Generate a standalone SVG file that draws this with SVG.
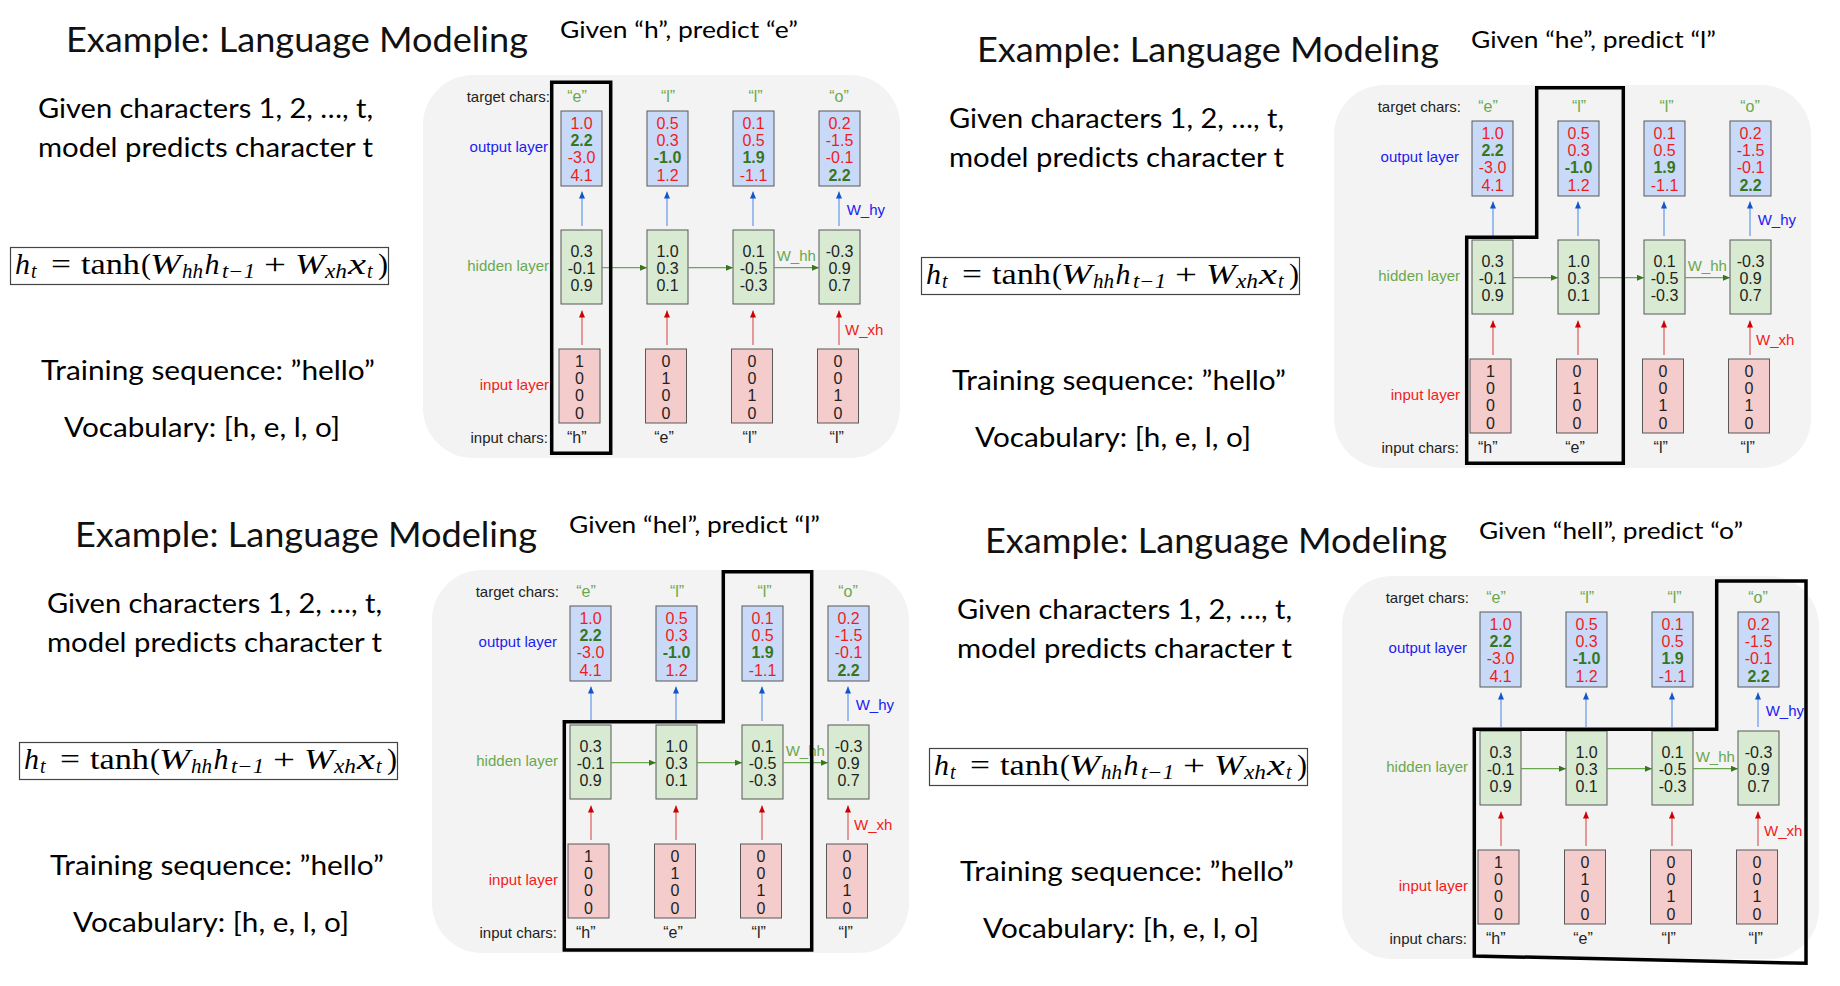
<svg xmlns="http://www.w3.org/2000/svg" width="1840" height="986" viewBox="0 0 1840 986">
<style>
.title{font-family:Lato,"Open Sans",sans-serif;font-size:35px;fill:#111}
.sub{font-family:Lato,"Open Sans",sans-serif;font-size:24px;fill:#000}
.body{font-family:Lato,"Open Sans",sans-serif;font-size:26px;fill:#000}
.eq{font-family:"Liberation Serif","DejaVu Serif",serif;font-size:30px;fill:#000}
.it{font-style:italic}
.sb{font-size:20px}
.eqbox{fill:#fff;stroke:#444;stroke-width:1.2}
.lbl{font-family:"Liberation Sans",Arial,sans-serif;font-size:15px;text-anchor:end}
.num{font-family:"Liberation Sans",Arial,sans-serif;font-size:16px;text-anchor:middle}
.wl{font-family:"Liberation Sans",Arial,sans-serif;font-size:15px}
.k{fill:#222}.r{fill:#f01c1c}.g{fill:#38761d;font-weight:bold}.lg{fill:#6aa84f}.bl{fill:#1c1cf0}.rd{fill:#f01c1c}
.bg{fill:#f3f3f3}
.ob{fill:#c9daf8;stroke:#595959;stroke-width:1}
.hb{fill:#d9ead3;stroke:#595959;stroke-width:1}
.ib{fill:#f4cccc;stroke:#595959;stroke-width:1}
.ab{stroke:#6d9eeb;stroke-width:1.3;fill:none;marker-end:url(#mb)}
.ar{stroke:#e06666;stroke-width:1.3;fill:none;marker-end:url(#mr)}
.ag{stroke:#6aa84f;stroke-width:1.3;fill:none;marker-end:url(#mg)}
.hl{fill:none;stroke:#000;stroke-width:3.5;stroke-linejoin:miter}
</style>
<defs>
<marker id="mb" viewBox="0 0 7 6" refX="7" refY="3" markerWidth="7" markerHeight="6" markerUnits="userSpaceOnUse" orient="auto"><path d="M0,0L7,3L0,6z" fill="#1155cc"/></marker>
<marker id="mr" viewBox="0 0 7 6" refX="7" refY="3" markerWidth="7" markerHeight="6" markerUnits="userSpaceOnUse" orient="auto"><path d="M0,0L7,3L0,6z" fill="#cc0000"/></marker>
<marker id="mg" viewBox="0 0 7 6" refX="7" refY="3" markerWidth="7" markerHeight="6" markerUnits="userSpaceOnUse" orient="auto"><path d="M0,0L7,3L0,6z" fill="#38761d"/></marker>
</defs>
<rect x="0" y="0" width="1840" height="986" fill="#fff"/>

<!-- ============ SLIDE 1 ============ -->
<g id="s1" transform="translate(0,0)">
<g id="s1-title"><text class="title" x="66" y="52" textLength="462" lengthAdjust="spacingAndGlyphs">Example: Language Modeling</text></g>
<g id="s1-given"><text class="sub" x="560" y="37.7" textLength="238" lengthAdjust="spacingAndGlyphs">Given “h”, predict “e”</text></g>
<g id="s1-task"><text class="body" x="38" y="118" textLength="335" lengthAdjust="spacingAndGlyphs">Given characters 1, 2, …, t,</text><text class="body" x="38" y="157" textLength="335" lengthAdjust="spacingAndGlyphs">model predicts character t</text></g>
<g id="s1-equation"><rect class="eqbox" x="10.5" y="247.5" width="378" height="37"/>
<text class="eq"><tspan class="it" x="15" y="274">h</tspan><tspan class="it sb" x="31" y="278">t</tspan><tspan x="51" y="274" textLength="20" lengthAdjust="spacingAndGlyphs">=</tspan><tspan x="81" y="274" textLength="59" lengthAdjust="spacingAndGlyphs">tanh</tspan><tspan x="141" y="274">(</tspan><tspan class="it" x="150" y="274" textLength="31" lengthAdjust="spacingAndGlyphs">W</tspan><tspan class="it sb" x="182" y="277.5" textLength="21" lengthAdjust="spacingAndGlyphs">hh</tspan><tspan class="it" x="204.5" y="274">h</tspan><tspan class="it sb" x="222" y="278" textLength="33" lengthAdjust="spacingAndGlyphs">t−1</tspan><tspan x="264" y="274" textLength="22" lengthAdjust="spacingAndGlyphs">+</tspan><tspan class="it" x="295" y="274" textLength="30" lengthAdjust="spacingAndGlyphs">W</tspan><tspan class="it sb" x="325" y="278" textLength="22" lengthAdjust="spacingAndGlyphs">xh</tspan><tspan class="it" x="348" y="274" textLength="18" lengthAdjust="spacingAndGlyphs">x</tspan><tspan class="it sb" x="367" y="278">t</tspan><tspan x="378" y="274">)</tspan></text></g>
<g id="s1-training"><text class="body" x="41" y="380" textLength="334" lengthAdjust="spacingAndGlyphs">Training sequence: ”hello”</text></g>
<g id="s1-vocab"><text class="body" x="64" y="437" textLength="276" lengthAdjust="spacingAndGlyphs">Vocabulary: [h, e, l, o]</text></g>
<g id="s1-rnn">
<rect class="bg" x="423" y="75" width="477" height="383" rx="50"/>
<g id="s1-labels"><text class="lbl k" x="550" y="101.7">target chars:</text><text class="lbl bl" x="548" y="151.7">output layer</text><text class="lbl lg" x="549" y="270.7">hidden layer</text><text class="lbl rd" x="549" y="390">input layer</text><text class="lbl k" x="548" y="442.7">input chars:</text></g>
<g id="s1-targets"><text class="num lg"><tspan x="577" y="101.7">“e”</tspan><tspan x="668" y="101.7">“l”</tspan><tspan x="755.5" y="101.7">“l”</tspan><tspan x="839" y="101.7">“o”</tspan></text></g>
<g id="s1-y1"><rect class="ob" x="561" y="111" width="41" height="75"/><text class="num"><tspan class="r" x="581.5" y="128.7">1.0</tspan><tspan class="g" x="581.5" y="146">2.2</tspan><tspan class="r" x="581.5" y="163.3">-3.0</tspan><tspan class="r" x="581.5" y="180.7">4.1</tspan></text></g>
<g id="s1-y2"><rect class="ob" x="647" y="111" width="41" height="75"/><text class="num"><tspan class="r" x="667.5" y="128.7">0.5</tspan><tspan class="r" x="667.5" y="146">0.3</tspan><tspan class="g" x="667.5" y="163.3">-1.0</tspan><tspan class="r" x="667.5" y="180.7">1.2</tspan></text></g>
<g id="s1-y3"><rect class="ob" x="733" y="111" width="41" height="75"/><text class="num"><tspan class="r" x="753.5" y="128.7">0.1</tspan><tspan class="r" x="753.5" y="146">0.5</tspan><tspan class="g" x="753.5" y="163.3">1.9</tspan><tspan class="r" x="753.5" y="180.7">-1.1</tspan></text></g>
<g id="s1-y4"><rect class="ob" x="819" y="111" width="41" height="75"/><text class="num"><tspan class="r" x="839.5" y="128.7">0.2</tspan><tspan class="r" x="839.5" y="146">-1.5</tspan><tspan class="r" x="839.5" y="163.3">-0.1</tspan><tspan class="g" x="839.5" y="180.7">2.2</tspan></text></g>
<g id="s1-h1"><rect class="hb" x="561" y="230" width="41" height="74"/><text class="num k"><tspan x="581.5" y="256.7">0.3</tspan><tspan x="581.5" y="274">-0.1</tspan><tspan x="581.5" y="291.3">0.9</tspan></text></g>
<g id="s1-h2"><rect class="hb" x="647" y="230" width="41" height="74"/><text class="num k"><tspan x="667.5" y="256.7">1.0</tspan><tspan x="667.5" y="274">0.3</tspan><tspan x="667.5" y="291.3">0.1</tspan></text></g>
<g id="s1-h3"><rect class="hb" x="733" y="230" width="41" height="74"/><text class="num k"><tspan x="753.5" y="256.7">0.1</tspan><tspan x="753.5" y="274">-0.5</tspan><tspan x="753.5" y="291.3">-0.3</tspan></text></g>
<g id="s1-h4"><rect class="hb" x="819" y="230" width="41" height="74"/><text class="num k"><tspan x="839.5" y="256.7">-0.3</tspan><tspan x="839.5" y="274">0.9</tspan><tspan x="839.5" y="291.3">0.7</tspan></text></g>
<g id="s1-x1"><rect class="ib" x="559" y="349" width="41" height="74"/><text class="num k"><tspan x="579.5" y="366.7">1</tspan><tspan x="579.5" y="384">0</tspan><tspan x="579.5" y="401.3">0</tspan><tspan x="579.5" y="418.7">0</tspan></text></g>
<g id="s1-x2"><rect class="ib" x="645.5" y="349" width="41" height="74"/><text class="num k"><tspan x="666" y="366.7">0</tspan><tspan x="666" y="384">1</tspan><tspan x="666" y="401.3">0</tspan><tspan x="666" y="418.7">0</tspan></text></g>
<g id="s1-x3"><rect class="ib" x="731.5" y="349" width="41" height="74"/><text class="num k"><tspan x="752" y="366.7">0</tspan><tspan x="752" y="384">0</tspan><tspan x="752" y="401.3">1</tspan><tspan x="752" y="418.7">0</tspan></text></g>
<g id="s1-x4"><rect class="ib" x="817.5" y="349" width="41" height="74"/><text class="num k"><tspan x="838" y="366.7">0</tspan><tspan x="838" y="384">0</tspan><tspan x="838" y="401.3">1</tspan><tspan x="838" y="418.7">0</tspan></text></g>
<g id="s1-connectors"><path class="ab" d="M582,226V191.5"/><path class="ab" d="M667,226V191.5"/><path class="ab" d="M753,226V191.5"/><path class="ab" d="M839,226V191.5"/><path class="ar" d="M582,345V310.5"/><path class="ar" d="M667,345V310.5"/><path class="ar" d="M753,345V310.5"/><path class="ar" d="M839,345V310.5"/><path class="ag" d="M602,267.7H647"/><path class="ag" d="M688,267.7H733"/><path class="ag" d="M774,267.7H819"/></g>
<g id="s1-weights"><text class="wl bl" x="846.7" y="215">W_hy</text><text class="wl lg" x="776.7" y="261">W_hh</text><text class="wl rd" x="845" y="335">W_xh</text></g>
<g id="s1-inchars"><text class="num k"><tspan x="576.7" y="442.7">“h”</tspan><tspan x="664" y="442.7">“e”</tspan><tspan x="749.7" y="442.7">“l”</tspan><tspan x="836.7" y="442.7">“l”</tspan></text></g>
<path id="s1-highlight" class="hl" d="M551.7,82.3H610.7V453.3H551.7Z"/>
</g>
</g>

<!-- ============ SLIDE 2 ============ -->
<g id="s2" transform="translate(911,10)">
<g id="s2-title"><text class="title" x="66" y="52" textLength="462" lengthAdjust="spacingAndGlyphs">Example: Language Modeling</text></g>
<g id="s2-given"><text class="sub" x="560" y="38" textLength="245" lengthAdjust="spacingAndGlyphs">Given “he”, predict “l”</text></g>
<g id="s2-task"><text class="body" x="38" y="118" textLength="335" lengthAdjust="spacingAndGlyphs">Given characters 1, 2, …, t,</text><text class="body" x="38" y="157" textLength="335" lengthAdjust="spacingAndGlyphs">model predicts character t</text></g>
<g id="s2-equation"><rect class="eqbox" x="10.5" y="247.5" width="378" height="37"/>
<text class="eq"><tspan class="it" x="15" y="274">h</tspan><tspan class="it sb" x="31" y="278">t</tspan><tspan x="51" y="274" textLength="20" lengthAdjust="spacingAndGlyphs">=</tspan><tspan x="81" y="274" textLength="59" lengthAdjust="spacingAndGlyphs">tanh</tspan><tspan x="141" y="274">(</tspan><tspan class="it" x="150" y="274" textLength="31" lengthAdjust="spacingAndGlyphs">W</tspan><tspan class="it sb" x="182" y="277.5" textLength="21" lengthAdjust="spacingAndGlyphs">hh</tspan><tspan class="it" x="204.5" y="274">h</tspan><tspan class="it sb" x="222" y="278" textLength="33" lengthAdjust="spacingAndGlyphs">t−1</tspan><tspan x="264" y="274" textLength="22" lengthAdjust="spacingAndGlyphs">+</tspan><tspan class="it" x="295" y="274" textLength="30" lengthAdjust="spacingAndGlyphs">W</tspan><tspan class="it sb" x="325" y="278" textLength="22" lengthAdjust="spacingAndGlyphs">xh</tspan><tspan class="it" x="348" y="274" textLength="18" lengthAdjust="spacingAndGlyphs">x</tspan><tspan class="it sb" x="367" y="278">t</tspan><tspan x="378" y="274">)</tspan></text></g>
<g id="s2-training"><text class="body" x="41" y="380" textLength="334" lengthAdjust="spacingAndGlyphs">Training sequence: ”hello”</text></g>
<g id="s2-vocab"><text class="body" x="64" y="437" textLength="276" lengthAdjust="spacingAndGlyphs">Vocabulary: [h, e, l, o]</text></g>
<g id="s2-rnn">
<rect class="bg" x="423" y="75" width="477" height="383" rx="50"/>
<g id="s2-labels"><text class="lbl k" x="550" y="101.7">target chars:</text><text class="lbl bl" x="548" y="151.7">output layer</text><text class="lbl lg" x="549" y="270.7">hidden layer</text><text class="lbl rd" x="549" y="390">input layer</text><text class="lbl k" x="548" y="442.7">input chars:</text></g>
<g id="s2-targets"><text class="num lg"><tspan x="577" y="101.7">“e”</tspan><tspan x="668" y="101.7">“l”</tspan><tspan x="755.5" y="101.7">“l”</tspan><tspan x="839" y="101.7">“o”</tspan></text></g>
<g id="s2-y1"><rect class="ob" x="561" y="111" width="41" height="75"/><text class="num"><tspan class="r" x="581.5" y="128.7">1.0</tspan><tspan class="g" x="581.5" y="146">2.2</tspan><tspan class="r" x="581.5" y="163.3">-3.0</tspan><tspan class="r" x="581.5" y="180.7">4.1</tspan></text></g>
<g id="s2-y2"><rect class="ob" x="647" y="111" width="41" height="75"/><text class="num"><tspan class="r" x="667.5" y="128.7">0.5</tspan><tspan class="r" x="667.5" y="146">0.3</tspan><tspan class="g" x="667.5" y="163.3">-1.0</tspan><tspan class="r" x="667.5" y="180.7">1.2</tspan></text></g>
<g id="s2-y3"><rect class="ob" x="733" y="111" width="41" height="75"/><text class="num"><tspan class="r" x="753.5" y="128.7">0.1</tspan><tspan class="r" x="753.5" y="146">0.5</tspan><tspan class="g" x="753.5" y="163.3">1.9</tspan><tspan class="r" x="753.5" y="180.7">-1.1</tspan></text></g>
<g id="s2-y4"><rect class="ob" x="819" y="111" width="41" height="75"/><text class="num"><tspan class="r" x="839.5" y="128.7">0.2</tspan><tspan class="r" x="839.5" y="146">-1.5</tspan><tspan class="r" x="839.5" y="163.3">-0.1</tspan><tspan class="g" x="839.5" y="180.7">2.2</tspan></text></g>
<g id="s2-h1"><rect class="hb" x="561" y="230" width="41" height="74"/><text class="num k"><tspan x="581.5" y="256.7">0.3</tspan><tspan x="581.5" y="274">-0.1</tspan><tspan x="581.5" y="291.3">0.9</tspan></text></g>
<g id="s2-h2"><rect class="hb" x="647" y="230" width="41" height="74"/><text class="num k"><tspan x="667.5" y="256.7">1.0</tspan><tspan x="667.5" y="274">0.3</tspan><tspan x="667.5" y="291.3">0.1</tspan></text></g>
<g id="s2-h3"><rect class="hb" x="733" y="230" width="41" height="74"/><text class="num k"><tspan x="753.5" y="256.7">0.1</tspan><tspan x="753.5" y="274">-0.5</tspan><tspan x="753.5" y="291.3">-0.3</tspan></text></g>
<g id="s2-h4"><rect class="hb" x="819" y="230" width="41" height="74"/><text class="num k"><tspan x="839.5" y="256.7">-0.3</tspan><tspan x="839.5" y="274">0.9</tspan><tspan x="839.5" y="291.3">0.7</tspan></text></g>
<g id="s2-x1"><rect class="ib" x="559" y="349" width="41" height="74"/><text class="num k"><tspan x="579.5" y="366.7">1</tspan><tspan x="579.5" y="384">0</tspan><tspan x="579.5" y="401.3">0</tspan><tspan x="579.5" y="418.7">0</tspan></text></g>
<g id="s2-x2"><rect class="ib" x="645.5" y="349" width="41" height="74"/><text class="num k"><tspan x="666" y="366.7">0</tspan><tspan x="666" y="384">1</tspan><tspan x="666" y="401.3">0</tspan><tspan x="666" y="418.7">0</tspan></text></g>
<g id="s2-x3"><rect class="ib" x="731.5" y="349" width="41" height="74"/><text class="num k"><tspan x="752" y="366.7">0</tspan><tspan x="752" y="384">0</tspan><tspan x="752" y="401.3">1</tspan><tspan x="752" y="418.7">0</tspan></text></g>
<g id="s2-x4"><rect class="ib" x="817.5" y="349" width="41" height="74"/><text class="num k"><tspan x="838" y="366.7">0</tspan><tspan x="838" y="384">0</tspan><tspan x="838" y="401.3">1</tspan><tspan x="838" y="418.7">0</tspan></text></g>
<g id="s2-connectors"><path class="ab" d="M582,226V191.5"/><path class="ab" d="M667,226V191.5"/><path class="ab" d="M753,226V191.5"/><path class="ab" d="M839,226V191.5"/><path class="ar" d="M582,345V310.5"/><path class="ar" d="M667,345V310.5"/><path class="ar" d="M753,345V310.5"/><path class="ar" d="M839,345V310.5"/><path class="ag" d="M602,267.7H647"/><path class="ag" d="M688,267.7H733"/><path class="ag" d="M774,267.7H819"/></g>
<g id="s2-weights"><text class="wl bl" x="846.7" y="215">W_hy</text><text class="wl lg" x="776.7" y="261">W_hh</text><text class="wl rd" x="845" y="335">W_xh</text></g>
<g id="s2-inchars"><text class="num k"><tspan x="576.7" y="442.7">“h”</tspan><tspan x="664" y="442.7">“e”</tspan><tspan x="749.7" y="442.7">“l”</tspan><tspan x="836.7" y="442.7">“l”</tspan></text></g>
<path id="s2-highlight" class="hl" d="M555.7,227.3H625.7V77.7H712.3V453.3H555.7Z"/>
</g>
</g>

<!-- ============ SLIDE 3 ============ -->
<g id="s3" transform="translate(9,495)">
<g id="s3-title"><text class="title" x="66" y="52" textLength="462" lengthAdjust="spacingAndGlyphs">Example: Language Modeling</text></g>
<g id="s3-given"><text class="sub" x="560" y="38" textLength="251" lengthAdjust="spacingAndGlyphs">Given “hel”, predict “l”</text></g>
<g id="s3-task"><text class="body" x="38" y="118" textLength="335" lengthAdjust="spacingAndGlyphs">Given characters 1, 2, …, t,</text><text class="body" x="38" y="157" textLength="335" lengthAdjust="spacingAndGlyphs">model predicts character t</text></g>
<g id="s3-equation"><rect class="eqbox" x="10.5" y="247.5" width="378" height="37"/>
<text class="eq"><tspan class="it" x="15" y="274">h</tspan><tspan class="it sb" x="31" y="278">t</tspan><tspan x="51" y="274" textLength="20" lengthAdjust="spacingAndGlyphs">=</tspan><tspan x="81" y="274" textLength="59" lengthAdjust="spacingAndGlyphs">tanh</tspan><tspan x="141" y="274">(</tspan><tspan class="it" x="150" y="274" textLength="31" lengthAdjust="spacingAndGlyphs">W</tspan><tspan class="it sb" x="182" y="277.5" textLength="21" lengthAdjust="spacingAndGlyphs">hh</tspan><tspan class="it" x="204.5" y="274">h</tspan><tspan class="it sb" x="222" y="278" textLength="33" lengthAdjust="spacingAndGlyphs">t−1</tspan><tspan x="264" y="274" textLength="22" lengthAdjust="spacingAndGlyphs">+</tspan><tspan class="it" x="295" y="274" textLength="30" lengthAdjust="spacingAndGlyphs">W</tspan><tspan class="it sb" x="325" y="278" textLength="22" lengthAdjust="spacingAndGlyphs">xh</tspan><tspan class="it" x="348" y="274" textLength="18" lengthAdjust="spacingAndGlyphs">x</tspan><tspan class="it sb" x="367" y="278">t</tspan><tspan x="378" y="274">)</tspan></text></g>
<g id="s3-training"><text class="body" x="41" y="380" textLength="334" lengthAdjust="spacingAndGlyphs">Training sequence: ”hello”</text></g>
<g id="s3-vocab"><text class="body" x="64" y="437" textLength="276" lengthAdjust="spacingAndGlyphs">Vocabulary: [h, e, l, o]</text></g>
<g id="s3-rnn">
<rect class="bg" x="423" y="75" width="477" height="383" rx="50"/>
<g id="s3-labels"><text class="lbl k" x="550" y="101.7">target chars:</text><text class="lbl bl" x="548" y="151.7">output layer</text><text class="lbl lg" x="549" y="270.7">hidden layer</text><text class="lbl rd" x="549" y="390">input layer</text><text class="lbl k" x="548" y="442.7">input chars:</text></g>
<g id="s3-targets"><text class="num lg"><tspan x="577" y="101.7">“e”</tspan><tspan x="668" y="101.7">“l”</tspan><tspan x="755.5" y="101.7">“l”</tspan><tspan x="839" y="101.7">“o”</tspan></text></g>
<g id="s3-y1"><rect class="ob" x="561" y="111" width="41" height="75"/><text class="num"><tspan class="r" x="581.5" y="128.7">1.0</tspan><tspan class="g" x="581.5" y="146">2.2</tspan><tspan class="r" x="581.5" y="163.3">-3.0</tspan><tspan class="r" x="581.5" y="180.7">4.1</tspan></text></g>
<g id="s3-y2"><rect class="ob" x="647" y="111" width="41" height="75"/><text class="num"><tspan class="r" x="667.5" y="128.7">0.5</tspan><tspan class="r" x="667.5" y="146">0.3</tspan><tspan class="g" x="667.5" y="163.3">-1.0</tspan><tspan class="r" x="667.5" y="180.7">1.2</tspan></text></g>
<g id="s3-y3"><rect class="ob" x="733" y="111" width="41" height="75"/><text class="num"><tspan class="r" x="753.5" y="128.7">0.1</tspan><tspan class="r" x="753.5" y="146">0.5</tspan><tspan class="g" x="753.5" y="163.3">1.9</tspan><tspan class="r" x="753.5" y="180.7">-1.1</tspan></text></g>
<g id="s3-y4"><rect class="ob" x="819" y="111" width="41" height="75"/><text class="num"><tspan class="r" x="839.5" y="128.7">0.2</tspan><tspan class="r" x="839.5" y="146">-1.5</tspan><tspan class="r" x="839.5" y="163.3">-0.1</tspan><tspan class="g" x="839.5" y="180.7">2.2</tspan></text></g>
<g id="s3-h1"><rect class="hb" x="561" y="230" width="41" height="74"/><text class="num k"><tspan x="581.5" y="256.7">0.3</tspan><tspan x="581.5" y="274">-0.1</tspan><tspan x="581.5" y="291.3">0.9</tspan></text></g>
<g id="s3-h2"><rect class="hb" x="647" y="230" width="41" height="74"/><text class="num k"><tspan x="667.5" y="256.7">1.0</tspan><tspan x="667.5" y="274">0.3</tspan><tspan x="667.5" y="291.3">0.1</tspan></text></g>
<g id="s3-h3"><rect class="hb" x="733" y="230" width="41" height="74"/><text class="num k"><tspan x="753.5" y="256.7">0.1</tspan><tspan x="753.5" y="274">-0.5</tspan><tspan x="753.5" y="291.3">-0.3</tspan></text></g>
<g id="s3-h4"><rect class="hb" x="819" y="230" width="41" height="74"/><text class="num k"><tspan x="839.5" y="256.7">-0.3</tspan><tspan x="839.5" y="274">0.9</tspan><tspan x="839.5" y="291.3">0.7</tspan></text></g>
<g id="s3-x1"><rect class="ib" x="559" y="349" width="41" height="74"/><text class="num k"><tspan x="579.5" y="366.7">1</tspan><tspan x="579.5" y="384">0</tspan><tspan x="579.5" y="401.3">0</tspan><tspan x="579.5" y="418.7">0</tspan></text></g>
<g id="s3-x2"><rect class="ib" x="645.5" y="349" width="41" height="74"/><text class="num k"><tspan x="666" y="366.7">0</tspan><tspan x="666" y="384">1</tspan><tspan x="666" y="401.3">0</tspan><tspan x="666" y="418.7">0</tspan></text></g>
<g id="s3-x3"><rect class="ib" x="731.5" y="349" width="41" height="74"/><text class="num k"><tspan x="752" y="366.7">0</tspan><tspan x="752" y="384">0</tspan><tspan x="752" y="401.3">1</tspan><tspan x="752" y="418.7">0</tspan></text></g>
<g id="s3-x4"><rect class="ib" x="817.5" y="349" width="41" height="74"/><text class="num k"><tspan x="838" y="366.7">0</tspan><tspan x="838" y="384">0</tspan><tspan x="838" y="401.3">1</tspan><tspan x="838" y="418.7">0</tspan></text></g>
<g id="s3-connectors"><path class="ab" d="M582,226V191.5"/><path class="ab" d="M667,226V191.5"/><path class="ab" d="M753,226V191.5"/><path class="ab" d="M839,226V191.5"/><path class="ar" d="M582,345V310.5"/><path class="ar" d="M667,345V310.5"/><path class="ar" d="M753,345V310.5"/><path class="ar" d="M839,345V310.5"/><path class="ag" d="M602,267.7H647"/><path class="ag" d="M688,267.7H733"/><path class="ag" d="M774,267.7H819"/></g>
<g id="s3-weights"><text class="wl bl" x="846.7" y="215">W_hy</text><text class="wl lg" x="776.7" y="261">W_hh</text><text class="wl rd" x="845" y="335">W_xh</text></g>
<g id="s3-inchars"><text class="num k"><tspan x="576.7" y="442.7">“h”</tspan><tspan x="664" y="442.7">“e”</tspan><tspan x="749.7" y="442.7">“l”</tspan><tspan x="836.7" y="442.7">“l”</tspan></text></g>
<path id="s3-highlight" class="hl" d="M555.3,226.7H714.3V76.7H802.7V455H555.3Z"/>
</g>
</g>

<!-- ============ SLIDE 4 ============ -->
<g id="s4" transform="translate(919,501)">
<g id="s4-title"><text class="title" x="66" y="52" textLength="462" lengthAdjust="spacingAndGlyphs">Example: Language Modeling</text></g>
<g id="s4-given"><text class="sub" x="560" y="38.3" textLength="264" lengthAdjust="spacingAndGlyphs">Given “hell”, predict “o”</text></g>
<g id="s4-task"><text class="body" x="38" y="118" textLength="335" lengthAdjust="spacingAndGlyphs">Given characters 1, 2, …, t,</text><text class="body" x="38" y="157" textLength="335" lengthAdjust="spacingAndGlyphs">model predicts character t</text></g>
<g id="s4-equation"><rect class="eqbox" x="10.5" y="247.5" width="378" height="37"/>
<text class="eq"><tspan class="it" x="15" y="274">h</tspan><tspan class="it sb" x="31" y="278">t</tspan><tspan x="51" y="274" textLength="20" lengthAdjust="spacingAndGlyphs">=</tspan><tspan x="81" y="274" textLength="59" lengthAdjust="spacingAndGlyphs">tanh</tspan><tspan x="141" y="274">(</tspan><tspan class="it" x="150" y="274" textLength="31" lengthAdjust="spacingAndGlyphs">W</tspan><tspan class="it sb" x="182" y="277.5" textLength="21" lengthAdjust="spacingAndGlyphs">hh</tspan><tspan class="it" x="204.5" y="274">h</tspan><tspan class="it sb" x="222" y="278" textLength="33" lengthAdjust="spacingAndGlyphs">t−1</tspan><tspan x="264" y="274" textLength="22" lengthAdjust="spacingAndGlyphs">+</tspan><tspan class="it" x="295" y="274" textLength="30" lengthAdjust="spacingAndGlyphs">W</tspan><tspan class="it sb" x="325" y="278" textLength="22" lengthAdjust="spacingAndGlyphs">xh</tspan><tspan class="it" x="348" y="274" textLength="18" lengthAdjust="spacingAndGlyphs">x</tspan><tspan class="it sb" x="367" y="278">t</tspan><tspan x="378" y="274">)</tspan></text></g>
<g id="s4-training"><text class="body" x="41" y="380" textLength="334" lengthAdjust="spacingAndGlyphs">Training sequence: ”hello”</text></g>
<g id="s4-vocab"><text class="body" x="64" y="437" textLength="276" lengthAdjust="spacingAndGlyphs">Vocabulary: [h, e, l, o]</text></g>
<g id="s4-rnn">
<rect class="bg" x="423" y="75" width="477" height="383" rx="50"/>
<g id="s4-labels"><text class="lbl k" x="550" y="101.7">target chars:</text><text class="lbl bl" x="548" y="151.7">output layer</text><text class="lbl lg" x="549" y="270.7">hidden layer</text><text class="lbl rd" x="549" y="390">input layer</text><text class="lbl k" x="548" y="442.7">input chars:</text></g>
<g id="s4-targets"><text class="num lg"><tspan x="577" y="101.7">“e”</tspan><tspan x="668" y="101.7">“l”</tspan><tspan x="755.5" y="101.7">“l”</tspan><tspan x="839" y="101.7">“o”</tspan></text></g>
<g id="s4-y1"><rect class="ob" x="561" y="111" width="41" height="75"/><text class="num"><tspan class="r" x="581.5" y="128.7">1.0</tspan><tspan class="g" x="581.5" y="146">2.2</tspan><tspan class="r" x="581.5" y="163.3">-3.0</tspan><tspan class="r" x="581.5" y="180.7">4.1</tspan></text></g>
<g id="s4-y2"><rect class="ob" x="647" y="111" width="41" height="75"/><text class="num"><tspan class="r" x="667.5" y="128.7">0.5</tspan><tspan class="r" x="667.5" y="146">0.3</tspan><tspan class="g" x="667.5" y="163.3">-1.0</tspan><tspan class="r" x="667.5" y="180.7">1.2</tspan></text></g>
<g id="s4-y3"><rect class="ob" x="733" y="111" width="41" height="75"/><text class="num"><tspan class="r" x="753.5" y="128.7">0.1</tspan><tspan class="r" x="753.5" y="146">0.5</tspan><tspan class="g" x="753.5" y="163.3">1.9</tspan><tspan class="r" x="753.5" y="180.7">-1.1</tspan></text></g>
<g id="s4-y4"><rect class="ob" x="819" y="111" width="41" height="75"/><text class="num"><tspan class="r" x="839.5" y="128.7">0.2</tspan><tspan class="r" x="839.5" y="146">-1.5</tspan><tspan class="r" x="839.5" y="163.3">-0.1</tspan><tspan class="g" x="839.5" y="180.7">2.2</tspan></text></g>
<g id="s4-h1"><rect class="hb" x="561" y="230" width="41" height="74"/><text class="num k"><tspan x="581.5" y="256.7">0.3</tspan><tspan x="581.5" y="274">-0.1</tspan><tspan x="581.5" y="291.3">0.9</tspan></text></g>
<g id="s4-h2"><rect class="hb" x="647" y="230" width="41" height="74"/><text class="num k"><tspan x="667.5" y="256.7">1.0</tspan><tspan x="667.5" y="274">0.3</tspan><tspan x="667.5" y="291.3">0.1</tspan></text></g>
<g id="s4-h3"><rect class="hb" x="733" y="230" width="41" height="74"/><text class="num k"><tspan x="753.5" y="256.7">0.1</tspan><tspan x="753.5" y="274">-0.5</tspan><tspan x="753.5" y="291.3">-0.3</tspan></text></g>
<g id="s4-h4"><rect class="hb" x="819" y="230" width="41" height="74"/><text class="num k"><tspan x="839.5" y="256.7">-0.3</tspan><tspan x="839.5" y="274">0.9</tspan><tspan x="839.5" y="291.3">0.7</tspan></text></g>
<g id="s4-x1"><rect class="ib" x="559" y="349" width="41" height="74"/><text class="num k"><tspan x="579.5" y="366.7">1</tspan><tspan x="579.5" y="384">0</tspan><tspan x="579.5" y="401.3">0</tspan><tspan x="579.5" y="418.7">0</tspan></text></g>
<g id="s4-x2"><rect class="ib" x="645.5" y="349" width="41" height="74"/><text class="num k"><tspan x="666" y="366.7">0</tspan><tspan x="666" y="384">1</tspan><tspan x="666" y="401.3">0</tspan><tspan x="666" y="418.7">0</tspan></text></g>
<g id="s4-x3"><rect class="ib" x="731.5" y="349" width="41" height="74"/><text class="num k"><tspan x="752" y="366.7">0</tspan><tspan x="752" y="384">0</tspan><tspan x="752" y="401.3">1</tspan><tspan x="752" y="418.7">0</tspan></text></g>
<g id="s4-x4"><rect class="ib" x="817.5" y="349" width="41" height="74"/><text class="num k"><tspan x="838" y="366.7">0</tspan><tspan x="838" y="384">0</tspan><tspan x="838" y="401.3">1</tspan><tspan x="838" y="418.7">0</tspan></text></g>
<g id="s4-connectors"><path class="ab" d="M582,226V191.5"/><path class="ab" d="M667,226V191.5"/><path class="ab" d="M753,226V191.5"/><path class="ab" d="M839,226V191.5"/><path class="ar" d="M582,345V310.5"/><path class="ar" d="M667,345V310.5"/><path class="ar" d="M753,345V310.5"/><path class="ar" d="M839,345V310.5"/><path class="ag" d="M602,267.7H647"/><path class="ag" d="M688,267.7H733"/><path class="ag" d="M774,267.7H819"/></g>
<g id="s4-weights"><text class="wl bl" x="846.7" y="215">W_hy</text><text class="wl lg" x="776.7" y="261">W_hh</text><text class="wl rd" x="845" y="335">W_xh</text></g>
<g id="s4-inchars"><text class="num k"><tspan x="576.7" y="442.7">“h”</tspan><tspan x="664" y="442.7">“e”</tspan><tspan x="749.7" y="442.7">“l”</tspan><tspan x="836.7" y="442.7">“l”</tspan></text></g>
<path id="s4-highlight" class="hl" d="M555.3,228.3H797.7V80H887V462.3L555.3,455Z"/>
</g>
</g>
</svg>
